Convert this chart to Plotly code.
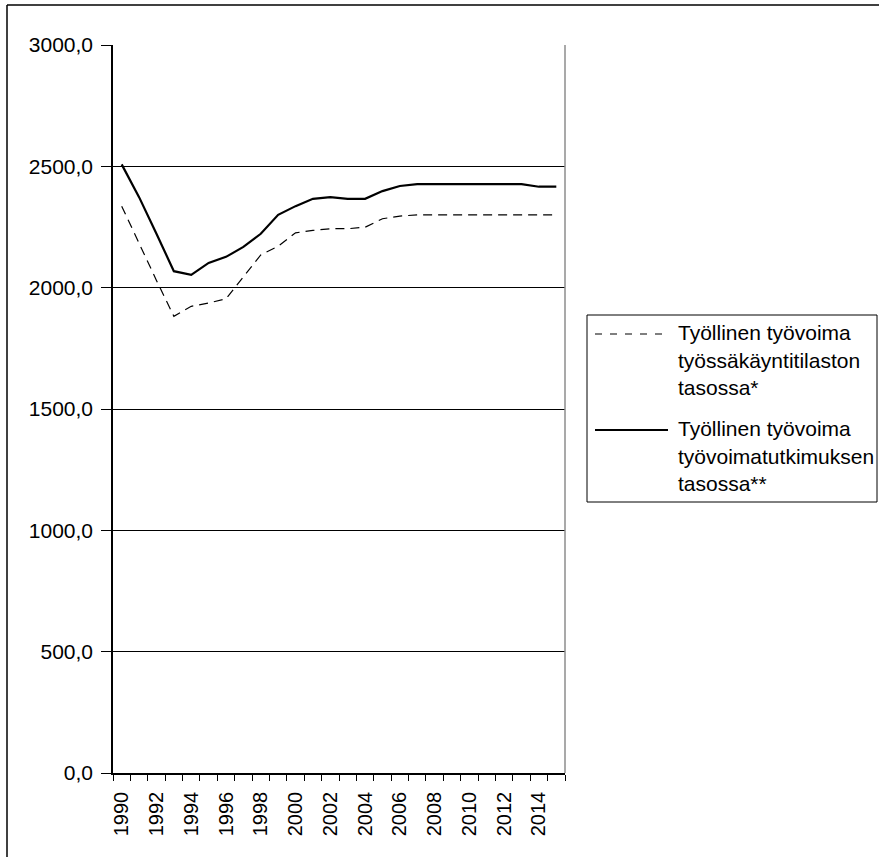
import plotly.graph_objects as go

# Employed labour force, thousands of persons
years = list(range(1990, 2016))
tyossakaynti = [2336, 2180, 2030, 1882, 1923, 1937, 1954, 2045, 2135, 2171,
                2226, 2236, 2243, 2243, 2249, 2284, 2295, 2300, 2300, 2300,
                2300, 2300, 2300, 2300, 2300, 2300]
tyovoimatutkimus = [2508, 2373, 2222, 2068, 2053, 2102, 2127, 2168, 2222, 2300,
                    2336, 2366, 2373, 2366, 2366, 2398, 2419, 2427, 2427, 2427,
                    2427, 2427, 2427, 2427, 2416, 2416]

series_names = ["Työllinen työvoima", "Työllinen työvoima"]
legend_lines = [
    ["Työllinen työvoima", "työssäkäyntitilaston", "tasossa*"],
    ["Työllinen työvoima", "työvoimatutkimuksen", "tasossa**"],
]
x_labels = [str(y) for y in range(1990, 2015, 2)]
y_ticks = [0, 500, 1000, 1500, 2000, 2500, 3000]

FONT = "Liberation Sans, Arial, sans-serif"
FS = 21
W, H = 879, 857
ML, MR, MT, MB = 113, 314, 45, 84
PW, PH = W - ML - MR, H - MT - MB


def px(x):
    return (x - ML) / PW


def py(y):
    return (H - MB - y) / PH


fig = go.Figure()
fig.add_trace(go.Scatter(
    x=years, y=tyossakaynti, mode="lines", name=series_names[0],
    line=dict(color="black", width=1.2, dash="9px,6px"), showlegend=False))
fig.add_trace(go.Scatter(
    x=years, y=tyovoimatutkimus, mode="lines", name=series_names[1],
    line=dict(color="black", width=2.2), showlegend=False))

shapes = []
# frame around the whole chart (top and left edges)
shapes.append(dict(type="line", xref="paper", yref="paper",
                   x0=px(7), x1=px(W + 10), y0=py(5), y1=py(5),
                   line=dict(color="black", width=1.5)))
shapes.append(dict(type="line", xref="paper", yref="paper",
                   x0=px(7), x1=px(7), y0=py(5), y1=py(H + 10),
                   line=dict(color="black", width=1.5)))
# plot area right border
shapes.append(dict(type="line", xref="paper", yref="paper",
                   x0=1, x1=1, y0=0, y1=1,
                   line=dict(color="#8c8c8c", width=1.5)))
# legend box
shapes.append(dict(type="rect", xref="paper", yref="paper",
                   x0=px(587), x1=px(877), y0=py(315), y1=py(502),
                   line=dict(color="black", width=1), fillcolor="white"))
# legend samples
shapes.append(dict(type="line", xref="paper", yref="paper",
                   x0=px(595), x1=px(668), y0=py(334), y1=py(334),
                   line=dict(color="black", width=1.2, dash="7px,8px")))
shapes.append(dict(type="line", xref="paper", yref="paper",
                   x0=px(595), x1=px(668), y0=py(430), y1=py(430),
                   line=dict(color="black", width=2.2)))

annotations = []
line_y = [[332, 360, 387], [428, 456, 483]]
for lines, ys in zip(legend_lines, line_y):
    for txt, yy in zip(lines, ys):
        annotations.append(dict(
            text=txt, xref="paper", yref="paper", x=px(676), y=py(yy),
            xanchor="left", yanchor="middle", showarrow=False,
            font=dict(family=FONT, size=FS, color="black")))

fig.update_layout(
    width=W, height=H, autosize=False,
    margin=dict(l=ML, r=MR, t=MT, b=MB),
    paper_bgcolor="white", plot_bgcolor="white",
    separators=", ",
    font=dict(family=FONT, size=FS, color="black"),
    shapes=shapes, annotations=annotations,
    showlegend=False,
)
fig.update_xaxes(
    range=[1989.5, 2015.5], tickmode="array",
    tickvals=[int(s) for s in x_labels], ticktext=x_labels,
    tickangle=-90, ticks="", showgrid=False, zeroline=False,
    showline=True, linecolor="black", linewidth=1.5,
    tickfont=dict(size=20),
    ticklabelstandoff=9,
    minor=dict(ticks="outside", tick0=1989.5, dtick=1, ticklen=6,
               tickcolor="black", tickwidth=1, showgrid=False),
)
fig.update_yaxes(
    range=[0, 3000], tickmode="array", tickvals=y_ticks, tickformat=".1f",
    ticks="outside", ticklen=10, tickcolor="black", tickwidth=1,
    showgrid=True, gridcolor="black", gridwidth=1, zeroline=False,
    showline=True, linecolor="black", linewidth=1.5,
    ticklabelstandoff=4,
)

fig.write_html("out.html")
